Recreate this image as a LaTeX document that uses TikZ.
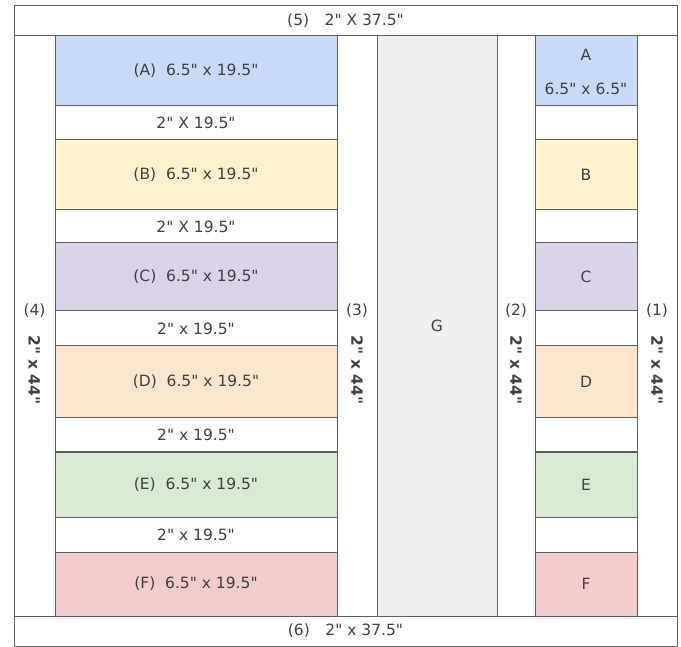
\documentclass[tikz,border=0pt]{standalone}
\usepackage{fontspec}
\setmainfont{DejaVu Sans}[Ligatures=TeXOff]
\definecolor{lineGray}{HTML}{5F5F5F}
\definecolor{textGray}{HTML}{404040}
\definecolor{fillA}{HTML}{C9DAF8}
\definecolor{fillB}{HTML}{FFF2CC}
\definecolor{fillC}{HTML}{D9D2E9}
\definecolor{fillD}{HTML}{FCE5CD}
\definecolor{fillE}{HTML}{D9EAD3}
\definecolor{fillF}{HTML}{F4CCCC}
\definecolor{fillG}{HTML}{EFEFEF}

\begin{document}
\begin{tikzpicture}[
        x=1pt,y=-1pt,
        piece/.style={rectangle,draw=lineGray,line width=1pt,inner sep=0pt,text=textGray,font=\fontsize{15.5}{18}\selectfont},
        big/.style={piece,minimum width=282pt},
        small/.style={piece,minimum width=102pt},
        sash/.style={piece,minimum height=580pt},
        txt/.style={inner sep=0pt,text=textGray,font=\fontsize{15.5}{18}\selectfont},
        vtxt/.style={txt,rotate=-90,font=\fontsize{15.5}{18}\selectfont\bfseries}
    ]
        \useasboundingbox (0,0) rectangle (681,647);

        % Define the long sashes and the middle panel
        \node[sash,minimum width=41pt] (S4) at (34.5,326) {};
        \node[sash,minimum width=40pt] (S3) at (357,326) {};
        \node[sash,minimum width=120pt,fill=fillG] (G) at (437,326) {G};
        \node[sash,minimum width=38pt] (S2) at (516,326) {};
        \node[sash,minimum width=40pt] (S1) at (657,326) {};

        % Define the top and bottom strips
        \node[piece,minimum width=663pt,minimum height=30pt] (S5) at (345.5,21) {(5)\quad 2" X 37.5"};
        \node[piece,minimum width=663pt,minimum height=30pt] (S6) at (345.5,631) {(6)\quad 2" x 37.5"};

        % Define the wide blocks
        \node[big,minimum height=70pt,fill=fillA] (A) at (196,71) {(A)~ 6.5" x 19.5"};
        \node[big,minimum height=34pt] (AB) at (196,123) {2" X 19.5"};
        \node[big,minimum height=70pt,fill=fillB] (B) at (196,175) {(B)~ 6.5" x 19.5"};
        \node[big,minimum height=33pt] (BC) at (196,226.5) {2" X 19.5"};
        \node[big,minimum height=68pt,fill=fillC] (C) at (196,277) {(C)~ 6.5" x 19.5"};
        \node[big,minimum height=35pt] (CD) at (196,328.5) {2" x 19.5"};
        \node[big,minimum height=72pt,fill=fillD] (D) at (196,382) {(D)~ 6.5" x 19.5"};
        \node[big,minimum height=34pt] (DE) at (196,435) {2" x 19.5"};
        \node[big,minimum height=65pt,fill=fillE] (E) at (196,484.5) {(E)~ 6.5" x 19.5"};
        \node[big,minimum height=35pt] (EF) at (196,534.5) {2" x 19.5"};
        \node[big,minimum height=64pt,fill=fillF] (F) at (196,584) {(F)~ 6.5" x 19.5"};

        % Define the square blocks
        \node[small,minimum height=70pt,fill=fillA] (a) at (586,71) {};
        \node[small,minimum height=34pt] (ab) at (586,123) {};
        \node[small,minimum height=70pt,fill=fillB] (b) at (586,175) {B};
        \node[small,minimum height=33pt] (bc) at (586,226.5) {};
        \node[small,minimum height=68pt,fill=fillC] (c) at (586,277) {C};
        \node[small,minimum height=35pt] (cd) at (586,328.5) {};
        \node[small,minimum height=72pt,fill=fillD] (d) at (586,382) {D};
        \node[small,minimum height=34pt] (de) at (586,435) {};
        \node[small,minimum height=65pt,fill=fillE] (e) at (586,484.5) {E};
        \node[small,minimum height=35pt] (ef) at (586,534.5) {};
        \node[small,minimum height=64pt,fill=fillF] (f) at (586,584) {F};
        \node[txt] (aname) at (586,55) {A};
        \node[txt] (asize) at (586,89) {6.5" x 6.5"};

        % Sash labels
        \node[txt] (n4) at (34.5,311) {(4)};
        \node[vtxt] (m4) at (34.5,370) {2" x 44"};
        \node[txt] (n3) at (357,311) {(3)};
        \node[vtxt] (m3) at (357,370) {2" x 44"};
        \node[txt] (n2) at (516,311) {(2)};
        \node[vtxt] (m2) at (516,370) {2" x 44"};
        \node[txt] (n1) at (657,311) {(1)};
        \node[vtxt] (m1) at (657,370) {2" x 44"};
    \end{tikzpicture}
\end{document}
